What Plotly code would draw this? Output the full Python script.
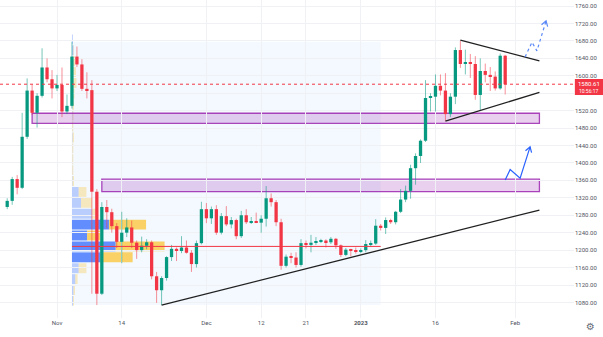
import math
import pandas as pd
import plotly.graph_objects as go

# ---------------- data (daily candles, ETH-style) ----------------
start_date = "2022-10-22"
opens = [1299, 1313, 1363, 1343, 1460, 1566, 1515, 1554, 1619, 1592,
         1571, 1579, 1518, 1531, 1644, 1626, 1570, 1567, 1334, 1100,
         1299, 1287, 1255, 1219, 1240, 1252, 1217, 1200, 1210, 1218,
         1140, 1108, 1136, 1184, 1203, 1198, 1206, 1194, 1168, 1216,
         1294, 1273, 1294, 1240, 1278, 1259, 1269, 1232, 1280, 1264,
         1266, 1263, 1272, 1319, 1310, 1264, 1164, 1185, 1183, 1166,
         1216, 1212, 1217, 1219, 1222, 1218, 1226, 1211, 1189, 1201,
         1198, 1196, 1200, 1214, 1215, 1256, 1251, 1269, 1264, 1288,
         1316, 1336, 1388, 1416, 1451, 1549, 1552, 1577, 1566, 1512,
         1552, 1659, 1627, 1629, 1627, 1556, 1611, 1602, 1598, 1571,
         1646]
highs = [1319, 1368, 1372, 1515, 1594, 1580, 1560, 1663, 1640, 1613,
         1602, 1619, 1557, 1678, 1667, 1638, 1608, 1590, 1340, 1310,
         1315, 1295, 1262, 1288, 1273, 1268, 1222, 1231, 1225, 1222,
         1150, 1140, 1186, 1212, 1206, 1232, 1222, 1200, 1222, 1311,
         1308, 1300, 1303, 1285, 1301, 1276, 1272, 1290, 1294, 1276,
         1286, 1280, 1347, 1330, 1315, 1272, 1190, 1194, 1195, 1225,
         1222, 1235, 1230, 1226, 1225, 1230, 1228, 1213, 1205, 1203,
         1206, 1204, 1223, 1222, 1271, 1260, 1275, 1272, 1290, 1340,
         1348, 1396, 1422, 1454, 1590, 1560, 1603, 1603, 1606, 1560,
         1665, 1680, 1660, 1650, 1645, 1640, 1628, 1620, 1610, 1651,
         1648]
lows = [1294, 1304, 1328, 1340, 1455, 1510, 1481, 1550, 1585, 1548,
        1565, 1505, 1512, 1525, 1620, 1565, 1548, 1100, 1074, 1097,
        1250, 1240, 1205, 1170, 1230, 1205, 1180, 1195, 1202, 1133,
        1079, 1074, 1130, 1175, 1175, 1193, 1192, 1150, 1160, 1213,
        1262, 1260, 1235, 1236, 1255, 1250, 1225, 1228, 1260, 1260,
        1262, 1240, 1254, 1300, 1255, 1155, 1160, 1170, 1160, 1162,
        1204, 1195, 1212, 1216, 1206, 1214, 1203, 1184, 1186, 1186,
        1192, 1193, 1195, 1207, 1212, 1245, 1237, 1260, 1259, 1285,
        1310, 1318, 1350, 1400, 1448, 1518, 1518, 1555, 1496, 1505,
        1535, 1618, 1603, 1595, 1545, 1519, 1585, 1565, 1566, 1568,
        1557]
closes = [1313, 1363, 1343, 1460, 1566, 1515, 1554, 1619, 1592, 1571,
          1579, 1518, 1531, 1644, 1626, 1570, 1567, 1334, 1100, 1299,
          1287, 1255, 1219, 1240, 1252, 1217, 1200, 1210, 1218, 1140,
          1108, 1136, 1184, 1203, 1198, 1206, 1194, 1168, 1216, 1294,
          1273, 1294, 1240, 1278, 1259, 1269, 1232, 1280, 1264, 1266,
          1263, 1272, 1319, 1310, 1264, 1164, 1185, 1183, 1166, 1216,
          1212, 1217, 1219, 1222, 1218, 1226, 1211, 1189, 1201, 1198,
          1196, 1200, 1214, 1215, 1256, 1251, 1269, 1264, 1288, 1316,
          1336, 1388, 1416, 1451, 1549, 1552, 1577, 1566, 1512, 1552,
          1659, 1627, 1629, 1627, 1556, 1611, 1602, 1598, 1571, 1646,
          1580.61]

x_tick_dates = ["2022-11-01", "2022-11-14", "2022-12-01", "2022-12-12",
                "2022-12-21", "2023-01-01", "2023-01-16", "2023-02-01"]
x_tick_text = ["Nov", "14", "Dec", "12", "21", "<b>2023</b>", "16", "Feb"]
y_tick_values = [1080, 1120, 1160, 1200, 1240, 1280, 1320, 1360, 1400,
                 1440, 1480, 1520, 1560, 1600, 1640, 1680, 1720, 1760]
# 1560 label is hidden behind the last-price label
y_tick_text = ["1080.00", "1120.00", "1160.00", "1200.00", "1240.00", "1280.00",
               "1320.00", "1360.00", "1400.00", "1440.00", "1480.00", "1520.00",
               "", "1600.00", "1640.00", "1680.00", "1720.00", "1760.00"]

last_price = 1580.61
countdown = "10:56:17"

# fixed-range volume profile
vp_start, vp_end = "2022-11-04", "2023-01-05"
vp_row_bottom = [1071, 1096, 1121, 1146, 1171, 1196, 1221, 1246, 1271,
                 1296, 1321, 1346, 1371, 1396, 1421, 1446, 1471, 1496,
                 1521, 1546, 1571, 1596, 1621, 1646, 1671]
vp_row_height = 25
vp_up = [1, 1.5, 3.3, 6.6, 28.3, 43.3, 15, 36.6, 20, 9, 6.6, 0.5, 0.3,
         0.3, 0.3, 0.5, 0.3, 0.5, 0.5, 0.5, 1, 1, 1, 1.5, 1]
vp_down = [1, 1.5, 2.3, 7.7, 31.7, 48.3, 13, 36.7, 5, 11, 7.7, 1.5, 1,
           1, 1, 1.5, 1, 1, 1.5, 2, 3.5, 3, 2, 0.5, 0]
vp_value_area = [0, 0, 0, 0, 1, 1, 1, 1, 0, 0, 0, 0, 0, 0, 0, 0, 0, 0,
                 0, 0, 0, 0, 0, 0, 0]
vp_width_share = 0.30

# drawings
zones = [("2022-10-27", "2023-02-05 21:00", 1491, 1514),
         ("2022-11-10", "2023-02-05 21:00", 1334, 1363)]
trend_lines = [[("2022-11-22", 1074), ("2023-02-05 21:00", 1292)],
               [("2023-01-21", 1682), ("2023-02-05 21:00", 1634)],
               [("2023-01-18", 1496), ("2023-02-05 21:00", 1562)]]
path_solid = [("2023-01-30", 1361), ("2023-01-31", 1385),
              ("2023-02-02", 1365), ("2023-02-04", 1437)]
path_dotted = [("2023-02-03", 1643), ("2023-02-04 09:00", 1677),
               ("2023-02-05 09:00", 1657), ("2023-02-07 05:00", 1726)]

# ---------------- layout geometry ----------------
W, H = 603, 337
M_R, M_B = 29, 19
PLOT_W, PLOT_H = W - M_R, H - M_B
x_range = ["2022-10-20 13:15", "2023-02-12 19:40"]
y_range = [1044.3, 1773.8]
DAY = pd.Timedelta("1D")
px_day = PLOT_W / ((pd.Timestamp(x_range[1]) - pd.Timestamp(x_range[0])) / DAY)
px_unit = PLOT_H / (y_range[1] - y_range[0])

UP = "#089981"
DOWN = "#f23645"
UP_WICK = "rgba(8,153,129,0.55)"
DOWN_WICK = "rgba(242,54,69,0.55)"

dates = pd.date_range(start_date, periods=len(closes), freq="D")

fig = go.Figure()

# wicks
for col, is_up in ((UP_WICK, True), (DOWN_WICK, False)):
    xs, ys = [], []
    for d, o, h, l, c in zip(dates, opens, highs, lows, closes):
        if (c >= o) == is_up:
            xs += [d, d, None]
            ys += [l, h, None]
    fig.add_trace(go.Scatter(x=xs, y=ys, mode="lines",
                             line=dict(color=col, width=1),
                             hoverinfo="skip", showlegend=False))

# bodies
min_body = 1.0 / px_unit
bases = [min(o, c) for o, c in zip(opens, closes)]
sizes = [max(abs(c - o), min_body) for o, c in zip(opens, closes)]
colors = [UP if c >= o else DOWN for o, c in zip(opens, closes)]
fig.add_trace(go.Bar(x=dates, y=sizes, base=bases, width=0.66 * 86400000,
                     marker=dict(color=colors, line=dict(width=0)),
                     showlegend=False, hoverinfo="skip"))

shapes = []
# fixed range background (range high/low from data)
in_rng = [(d >= pd.Timestamp(vp_start)) and (d <= pd.Timestamp(vp_end)) for d in dates]
rng_hi = max(h for h, f in zip(highs, in_rng) if f)
rng_lo = min(l for l, f in zip(lows, in_rng) if f)
shapes.append(dict(type="rect", xref="x", yref="y", x0=vp_start, x1=vp_end,
                   y0=rng_lo, y1=rng_hi, layer="below",
                   fillcolor="rgba(33,150,243,0.055)", line=dict(width=0)))

# volume profile rows
totals = [u + d for u, d in zip(vp_up, vp_down)]
max_total = max(totals)
range_days = (pd.Timestamp(vp_end) - pd.Timestamp(vp_start)) / DAY
t0 = pd.Timestamp(vp_start)
gap = 0.5 / px_unit
for yb, u, dn, va in zip(vp_row_bottom, vp_up, vp_down, vp_value_area):
    lu = u / max_total * vp_width_share * range_days
    ld = dn / max_total * vp_width_share * range_days
    cu = "rgba(41,98,255,0.72)" if va else "rgba(41,98,255,0.28)"
    cd = "rgba(251,192,45,0.72)" if va else "rgba(251,192,45,0.30)"
    if u > 0:
        shapes.append(dict(type="rect", xref="x", yref="y", x0=t0,
                           x1=t0 + lu * DAY, y0=yb + gap, y1=yb + vp_row_height - gap,
                           layer="below", fillcolor=cu, line=dict(width=0)))
    if dn > 0:
        shapes.append(dict(type="rect", xref="x", yref="y", x0=t0 + lu * DAY,
                           x1=t0 + (lu + ld) * DAY, y0=yb + gap,
                           y1=yb + vp_row_height - gap,
                           layer="below", fillcolor=cd, line=dict(width=0)))
poc_i = totals.index(max_total)
poc_price = vp_row_bottom[poc_i] + vp_row_height / 2

# zones
for x0, x1, y0, y1 in zones:
    shapes.append(dict(type="rect", xref="x", yref="y", x0=x0, x1=x1, y0=y0, y1=y1,
                       layer="below", fillcolor="rgba(156,39,176,0.22)",
                       line=dict(color="rgba(156,39,176,0.85)", width=1.3)))

# last price line
shapes.append(dict(type="line", xref="paper", yref="y", x0=0, x1=1,
                   y0=last_price, y1=last_price,
                   line=dict(color=DOWN, width=1, dash="dot")))
# price label box
box_top = last_price + 5.2 / px_unit
box_bot = last_price - 10.8 / px_unit
shapes.append(dict(type="rect", xref="paper", yref="y", x0=1.0015, x1=W / PLOT_W,
                   y0=box_bot, y1=box_top, fillcolor=DOWN, line=dict(width=0),
                   layer="above"))

# POC line
fig.add_trace(go.Scatter(x=[vp_start, vp_end], y=[poc_price, poc_price], mode="lines",
                         line=dict(color=DOWN, width=1), hoverinfo="skip",
                         showlegend=False))

# trend lines
for seg in trend_lines:
    fig.add_trace(go.Scatter(x=[p[0] for p in seg], y=[p[1] for p in seg],
                             mode="lines", line=dict(color="#202020", width=1.3),
                             hoverinfo="skip", showlegend=False))


def wings(prev, tip, length=6.0, ang=32.0):
    ref = pd.Timestamp(x_range[0])
    def to_px(p):
        return ((pd.Timestamp(p[0]) - ref) / DAY * px_day, p[1] * px_unit)
    def to_data(X, Y):
        return (ref + (X / px_day) * DAY, Y / px_unit)
    ax, ay = to_px(prev)
    tx, ty = to_px(tip)
    dx, dy = ax - tx, ay - ty
    n = math.hypot(dx, dy)
    dx, dy = dx / n, dy / n
    out = []
    for s in (1, -1):
        a = math.radians(ang) * s
        rx = dx * math.cos(a) - dy * math.sin(a)
        ry = dx * math.sin(a) + dy * math.cos(a)
        out.append(to_data(tx + rx * length, ty + ry * length))
    return out


for path, dash, col in ((path_solid, "solid", "#2962ff"),
                        (path_dotted, "dot", "#5a88f7")):
    fig.add_trace(go.Scatter(x=[p[0] for p in path], y=[p[1] for p in path],
                             mode="lines", line=dict(color=col, width=1.2, dash=dash),
                             hoverinfo="skip", showlegend=False))
    w1, w2 = wings(path[-2], path[-1])
    fig.add_trace(go.Scatter(x=[w1[0], pd.Timestamp(path[-1][0]), w2[0]],
                             y=[w1[1], path[-1][1], w2[1]], mode="lines",
                             line=dict(color=col, width=1.2),
                             hoverinfo="skip", showlegend=False))

annotations = [
    dict(xref="paper", yref="y", x=(PLOT_W + 14.5) / PLOT_W, y=last_price + 1.0 / px_unit,
         text="1580.61", showarrow=False, xanchor="center", yanchor="middle",
         font=dict(family="Roboto", size=6, color="white")),
    dict(xref="paper", yref="y", x=(PLOT_W + 14.5) / PLOT_W, y=last_price - 6.5 / px_unit,
         text=countdown, showarrow=False, xanchor="center", yanchor="middle",
         font=dict(family="Roboto", size=5, color="white")),
    dict(xref="paper", yref="paper", x=590 / PLOT_W, y=-(326 - PLOT_H) / PLOT_H,
         text="⚙", showarrow=False, xanchor="center", yanchor="middle",
         font=dict(family="DejaVu Sans", size=10, color="#6a6d78")),
]

fig.update_layout(
    width=W, height=H,
    margin=dict(l=0, r=M_R, t=0, b=M_B, pad=0),
    paper_bgcolor="white", plot_bgcolor="white",
    showlegend=False, barmode="overlay",
    shapes=shapes, annotations=annotations,
    font=dict(family="Roboto", size=6, color="#50535e"),
    xaxis=dict(type="date", range=x_range, tickvals=x_tick_dates, ticktext=x_tick_text,
               showgrid=True, gridcolor="#eff1f4", gridwidth=1, zeroline=False,
               showline=False, ticks="", tickfont=dict(size=6, color="#50535e"),
               rangeslider=dict(visible=False), fixedrange=True),
    yaxis=dict(side="right", range=y_range, tickvals=y_tick_values, ticktext=y_tick_text,
               showgrid=True, gridcolor="#eff1f4", gridwidth=1, zeroline=False,
               showline=False, ticks="", tickfont=dict(size=6, color="#50535e"),
               fixedrange=True),
)

fig.write_html("out.html")
